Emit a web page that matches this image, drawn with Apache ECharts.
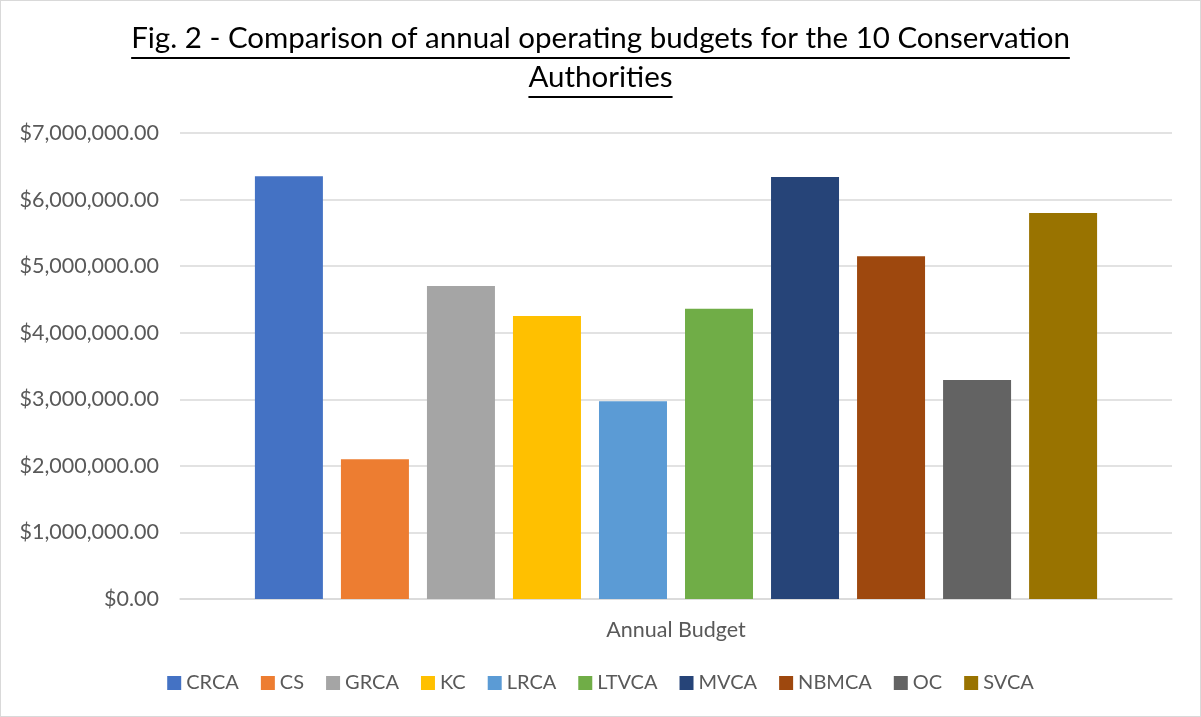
<!DOCTYPE html>
<html>
<head>
<meta charset="utf-8">
<script src="https://cdn.jsdelivr.net/npm/echarts@6/dist/echarts.min.js"></script>
<style>
  html, body { margin: 0; padding: 0; background: #fff; }
  #chart { width: 1199px; height: 715px; border: 1px solid #d9d9d9; }
</style>
</head>
<body>
<div id="chart"></div>
<script>
// Annual operating budgets per Conservation Authority
const categories = ['Annual Budget'];
const authorities = ['CRCA', 'CS', 'GRCA', 'KC', 'LRCA', 'LTVCA', 'MVCA', 'NBMCA', 'OC', 'SVCA'];
const budgets = [6350000, 2100000, 4700000, 4250000, 2970000, 4360000, 6340000, 5150000, 3290000, 5800000];
const colors = ['#4472C4', '#ED7D31', '#A5A5A5', '#FFC000', '#5B9BD5', '#70AD47', '#264478', '#9E480E', '#636363', '#997300'];
const titleLines = ['Fig. 2 - Comparison of annual operating budgets for the 10 Conservation', 'Authorities'];

const FONT = 'Lato, "Open Sans", sans-serif';
const TITLE_SIZE = 29.5;
const AXIS_SIZE = 21.5;
const LEGEND_SIZE = 20;

function textWidth(str, size) {
  const ctx = document.createElement('canvas').getContext('2d');
  ctx.font = size + 'px ' + FONT;
  return ctx.measureText(str).width;
}

const chart = echarts.init(document.getElementById('chart'), null, { renderer: 'canvas' });
const W = 1199;

// Two title lines, each underlined
const baselines = [52, 91];
const graphics = [];
titleLines.forEach((line, i) => {
  graphics.push({
    type: 'text', x: W / 2, y: baselines[i],
    style: { text: line, font: TITLE_SIZE + 'px ' + FONT, fill: '#000', textAlign: 'center', textVerticalAlign: 'bottom' }
  });
  const w = textWidth(line, TITLE_SIZE);
  graphics.push({
    type: 'line',
    shape: { x1: W / 2 - w / 2, y1: baselines[i] + 5, x2: W / 2 + w / 2, y2: baselines[i] + 5 },
    style: { stroke: '#000', lineWidth: 2 }
  });
});

const fmt = v => '$' + v.toLocaleString('en-US', { minimumFractionDigits: 2, maximumFractionDigits: 2 });

chart.setOption({
  animation: false,
  textStyle: { fontFamily: FONT },
  graphic: graphics,
  color: colors,
  legend: {
    bottom: 18,
    left: 'center',
    itemWidth: 14,
    itemHeight: 14,
    itemGap: 22,
    icon: 'rect',
    textStyle: { color: '#595959', fontSize: LEGEND_SIZE, fontFamily: FONT },
    data: authorities
  },
  grid: { left: 179, right: 28, top: 132, bottom: 117 },
  xAxis: {
    type: 'category',
    data: categories,
    axisLine: { lineStyle: { color: '#d9d9d9', width: 1.5 } },
    axisTick: { show: false },
    axisLabel: { color: '#595959', fontSize: AXIS_SIZE, margin: 20, fontFamily: FONT }
  },
  yAxis: {
    type: 'value',
    min: 0, max: 7000000, interval: 1000000,
    axisLine: { show: false },
    axisTick: { show: false },
    splitLine: { lineStyle: { color: '#d9d9d9', width: 1.5 } },
    axisLabel: { color: '#595959', fontSize: AXIS_SIZE, margin: 21, formatter: fmt, fontFamily: FONT }
  },
  series: authorities.map((name, i) => ({
    name: name,
    type: 'bar',
    barWidth: 68,
    barGap: '26.5%',
    data: [budgets[i]],
    itemStyle: { color: colors[i] }
  }))
});
</script>
</body>
</html>
